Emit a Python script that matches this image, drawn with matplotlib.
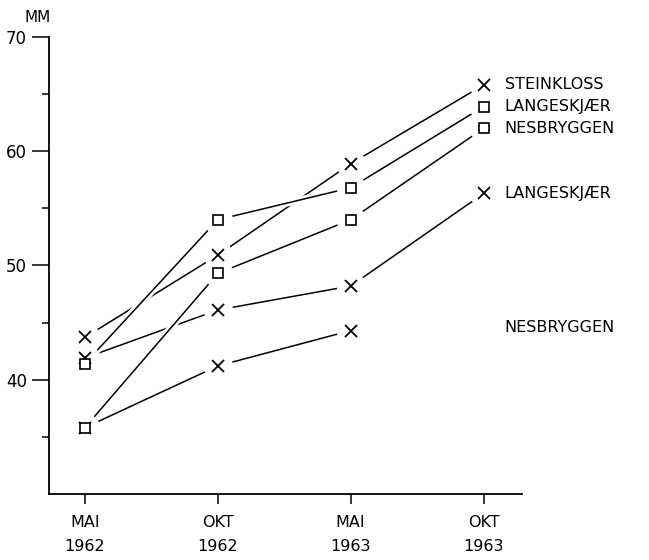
import matplotlib.pyplot as plt
import matplotlib.patheffects as pe
import numpy as np

periods = ['MAI\n1962', 'OKT\n1962', 'MAI\n1963', 'OKT\n1963']
steinkloss_x = [43.7, 50.9, 58.9, 65.8]
langeskjaer_x = [41.9, 46.1, 48.2, 56.3]
nesbryggen_x = [35.8, 41.2, 44.3]
langeskjaer_sq = [41.4, 54.0, 56.8, 63.9]
nesbryggen_sq = [35.8, 49.3, 54.0, 62.0]
# label for the lower nesbryggen series sits at the last column without a mark
nesbryggen_x_label_y = 44.6

series = [
    (steinkloss_x, 'x', 'STEINKLOSS', steinkloss_x[-1]),
    (langeskjaer_x, 'x', 'LANGESKJÆR', langeskjaer_x[-1]),
    (nesbryggen_x, 'x', 'NESBRYGGEN', nesbryggen_x_label_y),
    (langeskjaer_sq, 's', 'LANGESKJÆR', langeskjaer_sq[-1]),
    (nesbryggen_sq, 's', 'NESBRYGGEN', nesbryggen_sq[-1]),
]

plt.rcParams['font.family'] = ['DejaVu Sans']
fig = plt.figure(figsize=(6.49, 5.6), dpi=100)
ax = fig.add_axes([0.0755, 0.118, 0.729, 0.816])

halo = [pe.withStroke(linewidth=5, foreground='white')]
for vals, mk, name, ly in series:
    xs = np.arange(len(vals))
    ax.plot(xs, vals, color='black', lw=1.1, zorder=1, path_effects=halo, solid_capstyle='butt')
    ax.plot(xs, vals, ls='none', marker='o', ms=21, mfc='white', mec='none', zorder=2)
    if mk == 'x':
        ax.plot(xs, vals, ls='none', marker='x', ms=9, mew=1.3, color='black', zorder=3)
    else:
        ax.plot(xs, vals, ls='none', marker='s', ms=6.5, mew=1.2, mfc='white', mec='black', zorder=4)
    ax.text(3.16, ly, name, fontsize=11.5, ha='left', va='center', zorder=5)

ax.set_xlim(-0.27, 3.29)
ax.set_ylim(30, 70)
ax.set_xticks(range(len(periods)))
ax.set_xticklabels(periods, fontsize=11.5, linespacing=1.75)
ax.set_yticks([40, 50, 60, 70])
ax.set_yticklabels(['40', '50', '60', '70'], fontsize=12)
ax.set_yticks([35, 45, 55, 65], minor=True)
ax.tick_params(axis='y', which='major', length=12, width=1.1, pad=4)
ax.tick_params(axis='y', which='minor', length=5, width=1.1)
ax.tick_params(axis='x', length=7, width=1.1, pad=8)
for s in ['top', 'right']:
    ax.spines[s].set_visible(False)
for s in ['left', 'bottom']:
    ax.spines[s].set_linewidth(1.3)

fig.text(38 / 649, 1 - 17 / 560, 'MM', fontsize=11, ha='center', va='center')

fig.savefig('out.png', dpi=100)
